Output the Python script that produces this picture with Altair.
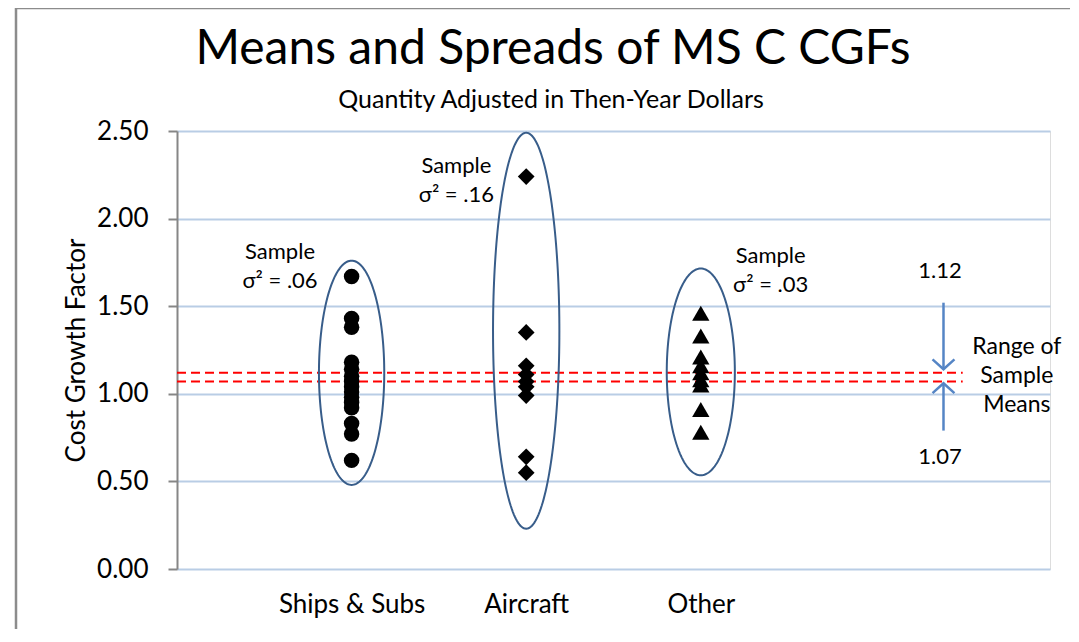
import numpy as np
import pandas as pd
import altair as alt

# ---------------- data ----------------
categories = ["Ships & Subs", "Aircraft", "Other"]
cat_pos = [1, 2, 3]

ships_vals = [1.67, 1.43, 1.38, 1.18, 1.14, 1.10, 1.07, 1.04, 1.01, 0.98, 0.95, 0.92, 0.83, 0.77, 0.62]
aircraft_vals = [2.24, 1.35, 1.16, 1.11, 1.07, 1.04, 0.99, 0.64, 0.55]
other_vals = [1.46, 1.33, 1.21, 1.16, 1.12, 1.08, 1.05, 0.91, 0.78]

sample_labels = ["Sample\nσ² = .06", "Sample\nσ² = .16", "Sample\nσ² = .03"]
sample_label_x = [0.59, 1.60, 3.40]
sample_label_y = [1.81, 2.30, 1.787]

# ellipse outlines (center / half-extent)
ell_cy = [1.12, 1.36, 1.125]
ell_ry = [0.64, 1.13, 0.59]
ell_rx = [0.187, 0.19, 0.195]

mean_range = [1.12, 1.07]
mean_line_x_end = 4.5

arrow_x = 4.39
arrow_down = [1.52, 1.14]   # from, tip
arrow_up = [0.79, 1.06]     # from, tip
arrow_labels = ["1.12", "1.07"]
arrow_label_x = 4.37
arrow_label_y = [1.70, 0.64]
range_text = "Range of\nSample\nMeans"
range_text_x = 4.81
range_text_y = 1.267

y_ticks = [0.0, 0.5, 1.0, 1.5, 2.0, 2.5]

title_text = "Means and Spreads of MS C CGFs"
subtitle_text = "Quantity Adjusted in Then-Year Dollars"

FONT = "Lato"

# ---------------- frames ----------------
pts_ships = pd.DataFrame({"x": cat_pos[0], "v": ships_vals})
pts_air = pd.DataFrame({"x": cat_pos[1], "v": aircraft_vals})
pts_other = pd.DataFrame({"x": cat_pos[2], "v": other_vals})

theta = np.linspace(0, 2 * np.pi, 181)
ell_rows = []
for i, c in enumerate(categories):
    for k, t in enumerate(theta):
        ell_rows.append({"grp": c, "ord": k,
                         "x": cat_pos[i] + ell_rx[i] * np.cos(t),
                         "v": ell_cy[i] + ell_ry[i] * np.sin(t)})
ell_df = pd.DataFrame(ell_rows)

mean_df = pd.DataFrame({"v": mean_range, "x": 0.0, "x2": mean_line_x_end})
lab_df = pd.DataFrame({"x": sample_label_x, "v": sample_label_y, "t": sample_labels})
shaft_df = pd.DataFrame({"x": [arrow_x, arrow_x], "v": [arrow_down[0], arrow_up[0]],
                         "v2": [arrow_down[1], arrow_up[1]]})
head_down_df = pd.DataFrame({"x": [arrow_x], "v": [arrow_down[1]]})
head_up_df = pd.DataFrame({"x": [arrow_x], "v": [arrow_up[1]]})
alab_df = pd.DataFrame({"x": arrow_label_x, "v": arrow_label_y, "t": arrow_labels})
range_df = pd.DataFrame({"x": [range_text_x], "v": [range_text_y], "t": [range_text]})
frame_df = pd.DataFrame({"a": [0]})
title_df = pd.DataFrame({"t": [title_text]})
subtitle_df = pd.DataFrame({"t": [subtitle_text]})

label_expr = "{" + ",".join(f"'{p}':'{c}'" for p, c in zip(cat_pos, categories)) + "}[datum.value]"

xs = alt.Scale(domain=[0, 5], nice=False, zero=False)
ys = alt.Scale(domain=[0, 2.5], nice=False)

X = alt.X("x:Q", scale=xs,
          axis=alt.Axis(values=cat_pos, labelExpr=label_expr, grid=False, ticks=False,
                        tickSize=0, domain=False, title=None, labelFont=FONT,
                        labelFontSize=26, labelColor="black", labelPadding=22))
Y = alt.Y("v:Q", scale=ys,
          axis=alt.Axis(values=y_ticks, format=".2f", title="Cost Growth Factor",
                        titleFont=FONT, titleFontSize=26, titleFontWeight="normal",
                        titleColor="black", titlePadding=7,
                        labelFont=FONT, labelFontSize=26, labelColor="black",
                        labelPadding=20, tickSize=9, tickColor="#868686", tickWidth=2,
                        domainColor="#868686", domainWidth=2,
                        grid=True, gridColor="#B9CDE5", gridWidth=2))

base = alt.Chart(mean_df).mark_rule(color="red", strokeWidth=2, strokeDash=[9, 5]).encode(
    x=X, x2="x2:Q", y=Y)

ellipses = alt.Chart(ell_df).mark_line(color="#385D8A", strokeWidth=2).encode(
    x=X, y=Y, order="ord:Q", detail="grp:N")

p1 = alt.Chart(pts_ships).mark_point(shape="circle", filled=True, color="black",
                                     opacity=1, size=240).encode(x=X, y=Y)
p2 = alt.Chart(pts_air).mark_point(shape="diamond", filled=True, color="black",
                                   opacity=1, size=280).encode(x=X, y=Y)
p3 = alt.Chart(pts_other).mark_point(shape="triangle-up", filled=True, color="black",
                                     opacity=1, size=300).encode(x=X, y=Y)

labels = alt.Chart(lab_df).mark_text(font=FONT, fontSize=22, color="black",
                                     lineBreak="\n", lineHeight=29,
                                     align="center", baseline="middle").encode(
    x=X, y=Y, text="t:N")

shafts = alt.Chart(shaft_df).mark_rule(color="#5585C5", strokeWidth=2.5).encode(
    x=X, y=Y, y2="v2:Q")
head_d = alt.Chart(head_down_df).mark_point(shape="M -1 -0.9 L 0 0 L 1 -0.9", filled=False,
                                            color="#5585C5", strokeWidth=2.5, opacity=1,
                                            size=480).encode(x=X, y=Y)
head_u = alt.Chart(head_up_df).mark_point(shape="M -1 0.9 L 0 0 L 1 0.9", filled=False,
                                          color="#5585C5", strokeWidth=2.5, opacity=1,
                                          size=480).encode(x=X, y=Y)
alabels = alt.Chart(alab_df).mark_text(font=FONT, fontSize=22, color="black",
                                       align="center", baseline="middle").encode(
    x=X, y=Y, text="t:N")
rtext = alt.Chart(range_df).mark_text(font=FONT, fontSize=23, color="black",
                                      lineBreak="\n", lineHeight=29,
                                      align="center", baseline="middle").encode(
    x=X, y=Y, text="t:N")

frame_left = alt.Chart(frame_df).mark_rule(color="#8C8C8C", strokeWidth=2.5).encode(
    x=alt.value(-161), y=alt.value(-123), y2=alt.value(500))
frame_top = alt.Chart(frame_df).mark_rule(color="#8C8C8C", strokeWidth=2.5).encode(
    x=alt.value(-161), x2=alt.value(893), y=alt.value(-123))

title_mark = alt.Chart(title_df).mark_text(font=FONT, fontSize=48, color="black",
                                           align="center", baseline="alphabetic").encode(
    x=alt.value(376), y=alt.value(-67), text="t:N")
subtitle_mark = alt.Chart(subtitle_df).mark_text(font=FONT, fontSize=25, color="black",
                                                 align="center", baseline="alphabetic").encode(
    x=alt.value(374), y=alt.value(-23), text="t:N")

chart = alt.layer(base, ellipses, p1, p2, p3, labels, shafts, head_d, head_u,
                  alabels, rtext, frame_left, frame_top, title_mark, subtitle_mark).properties(
    width=873, height=438,
    autosize=alt.AutoSizeParams(type="none"),
    padding={"left": 169, "top": 123, "right": 20, "bottom": 60},
).configure_view(strokeWidth=0, stroke="transparent").configure(background="white")

chart.save("out.html", embed_options={"renderer": "svg", "actions": False})
